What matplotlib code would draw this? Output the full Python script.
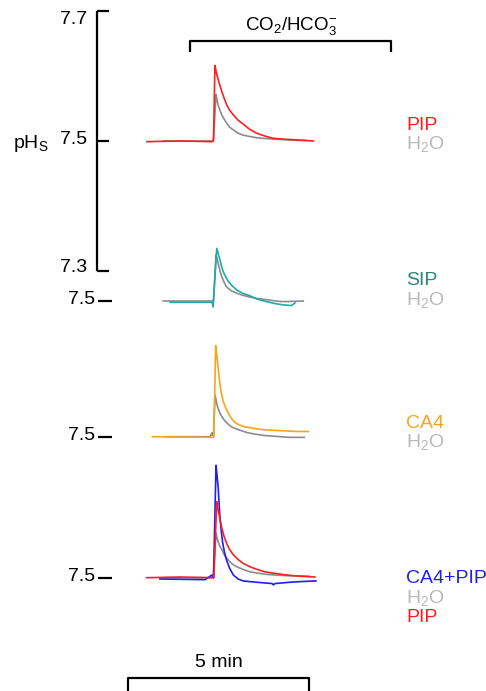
import matplotlib
matplotlib.use("Agg")
import matplotlib.pyplot as plt

plt.rcParams["font.family"] = ["Liberation Sans", "DejaVu Sans"]
plt.rcParams["mathtext.fontset"] = "custom"
plt.rcParams["mathtext.rm"] = "Liberation Sans"
plt.rcParams["mathtext.it"] = "Liberation Sans:italic"
plt.rcParams["mathtext.bf"] = "Liberation Sans:bold"

# ---- surface pH recordings (time in min, CO2/HCO3- step at t = 0) ----
# Panel 1: PIP vs H2O
p1_pip_t = [-1.84, -0.93, -0.04, 0.0, 0.04, 0.08, 0.13, 0.18, 0.23, 0.30, 0.37, 0.45, 0.55,
            0.68, 0.82, 1.00, 1.19, 1.40, 1.65, 1.90, 2.20, 2.76]
p1_pip_ph = [7.499, 7.500, 7.499, 7.500, 7.616, 7.605, 7.594, 7.585, 7.576, 7.565, 7.555, 7.547,
             7.540, 7.532, 7.526, 7.518, 7.512, 7.508, 7.504, 7.503, 7.502, 7.500]
p1_h2o_t = [-1.40, -0.03, 0.0, 0.07, 0.10, 0.13, 0.18, 0.23, 0.30, 0.37, 0.45, 0.55, 0.68, 0.82,
            1.00, 1.19, 1.40, 1.65, 1.95, 2.30, 2.53]
p1_h2o_ph = [7.500, 7.500, 7.502, 7.572, 7.562, 7.555, 7.547, 7.540, 7.533, 7.527, 7.521, 7.517,
             7.512, 7.509, 7.507, 7.505, 7.504, 7.503, 7.502, 7.501, 7.501]

# Panel 2: SIP vs H2O
p2_sip_t = [-1.20, -0.04, -0.01, 0.09, 0.13, 0.18, 0.22, 0.27, 0.34, 0.41, 0.52, 0.64, 0.80,
            1.01, 1.20, 1.47, 1.70, 1.93, 2.16, 2.25]
p2_sip_ph = [7.498, 7.498, 7.491, 7.581, 7.573, 7.563, 7.554, 7.545, 7.537, 7.530, 7.523, 7.517,
             7.512, 7.508, 7.503, 7.499, 7.496, 7.494, 7.493, 7.497]
p2_h2o_t = [-1.39, -0.03, 0.0, 0.07, 0.10, 0.13, 0.18, 0.23, 0.29, 0.36, 0.48, 0.64, 0.80, 1.01,
            1.20, 1.47, 1.70, 1.93, 2.48]
p2_h2o_ph = [7.500, 7.500, 7.502, 7.571, 7.565, 7.558, 7.546, 7.537, 7.529, 7.522, 7.516, 7.512,
             7.509, 7.506, 7.504, 7.502, 7.500, 7.499, 7.500]

# Panel 3: CA4 vs H2O
p3_ca4_t = [-1.69, -0.03, 0.01, 0.06, 0.09, 0.12, 0.15, 0.18, 0.22, 0.27, 0.34, 0.41, 0.50, 0.59,
            0.72, 0.87, 1.10, 1.33, 1.60, 1.98, 2.30, 2.62]
p3_ca4_ph = [7.500, 7.499, 7.500, 7.640, 7.626, 7.610, 7.595, 7.580, 7.566, 7.554, 7.544, 7.536,
             7.528, 7.522, 7.518, 7.515, 7.513, 7.511, 7.510, 7.509, 7.508, 7.508]
p3_h2o_t = [-1.34, -0.10, -0.04, 0.0, 0.04, 0.065, 0.09, 0.13, 0.18, 0.25, 0.32, 0.41, 0.50, 0.63,
            0.78, 0.95, 1.15, 1.38, 1.61, 1.85, 2.07, 2.30, 2.51]
p3_h2o_ph = [7.500, 7.500, 7.506, 7.501, 7.564, 7.558, 7.551, 7.543, 7.536, 7.529, 7.524, 7.519,
             7.515, 7.512, 7.509, 7.506, 7.504, 7.502, 7.501, 7.500, 7.499, 7.499, 7.499]

# Panel 4: CA4+PIP vs H2O vs PIP
p4_cp_t = [-1.48, -0.23, -0.05, 0.0, 0.07, 0.10, 0.13, 0.155, 0.18, 0.215, 0.25, 0.30, 0.36, 0.45,
           0.55, 0.68, 0.82, 1.00, 1.19, 1.40, 1.62, 1.65, 1.70, 2.11, 2.40, 2.83]
p4_cp_ph = [7.498, 7.497, 7.504, 7.500, 7.673, 7.656, 7.638, 7.614, 7.591, 7.572, 7.555, 7.540,
            7.527, 7.514, 7.504, 7.498, 7.495, 7.494, 7.493, 7.492, 7.491, 7.489, 7.491, 7.493,
            7.494, 7.495]
p4_h2o_t = [-1.34, -0.01, 0.07, 0.10, 0.13, 0.18, 0.23, 0.31, 0.41, 0.52, 0.64, 0.80, 1.01, 1.22,
            1.47, 1.75, 2.02, 2.30, 2.67]
p4_h2o_ph = [7.500, 7.500, 7.568, 7.561, 7.555, 7.548, 7.543, 7.534, 7.527, 7.521, 7.517, 7.513,
             7.509, 7.507, 7.505, 7.504, 7.503, 7.503, 7.502]
p4_pip_t = [-1.85, -0.93, -0.03, 0.01, 0.09, 0.11, 0.13, 0.18, 0.23, 0.29, 0.36, 0.45, 0.55, 0.68,
            0.82, 1.00, 1.19, 1.42, 1.65, 1.90, 2.20, 2.50, 2.80]
p4_pip_ph = [7.500, 7.501, 7.500, 7.500, 7.617, 7.611, 7.604, 7.590, 7.576, 7.564, 7.553, 7.543,
             7.535, 7.528, 7.522, 7.517, 7.513, 7.509, 7.507, 7.505, 7.503, 7.502, 7.501]

baseline_ph = 7.5
scale_ticks = [7.7, 7.5, 7.3]

RED = "#ff1f1f"
GRAY = "#8c8c8c"
TEAL = "#1fa9a9"
ORANGE = "#f9a51c"
BLUE = "#1f1ff0"
LABEL_GRAY = "#b9b9b9"
LABEL_TEAL = "#2a8679"

fig = plt.figure(figsize=(4.86, 6.91), dpi=100)
ax = fig.add_axes([0, 0, 1, 1])
ax.axis("off")

# axes units: x in minutes, y in pH units (panels stacked with vertical offsets)
PX_PER_MIN = 36.2
PX_PER_PH = 650.0
X0 = 213.5   # pixel column of t = 0
Y0 = 141.0   # pixel row of panel 1 baseline
ax.set_xlim(-X0 / PX_PER_MIN, (486 - X0) / PX_PER_MIN)
ax.set_ylim((Y0 - 691) / PX_PER_PH, Y0 / PX_PER_PH)


def px_x(px):
    return (px - X0) / PX_PER_MIN


def px_y(py):
    return (Y0 - py) / PX_PER_PH


offsets = [px_y(141), px_y(301), px_y(436.7), px_y(577.7)]


def trace(t, ph, off, color, z):
    ax.plot(t, [v - baseline_ph + off for v in ph], color=color, lw=1.2,
            solid_joinstyle="round", zorder=z)


trace(p1_h2o_t, p1_h2o_ph, offsets[0], GRAY, 2)
trace(p1_pip_t, p1_pip_ph, offsets[0], RED, 3)
trace(p2_h2o_t, p2_h2o_ph, offsets[1], GRAY, 2)
trace(p2_sip_t, p2_sip_ph, offsets[1], TEAL, 3)
trace(p3_h2o_t, p3_h2o_ph, offsets[2], GRAY, 2)
trace(p3_ca4_t, p3_ca4_ph, offsets[2], ORANGE, 3)
trace(p4_h2o_t, p4_h2o_ph, offsets[3], GRAY, 2)
trace(p4_cp_t, p4_cp_ph, offsets[3], BLUE, 3)
trace(p4_pip_t, p4_pip_ph, offsets[3], RED, 4)

FS = 14
blk = dict(color="black", lw=1.6, solid_capstyle="butt", clip_on=False)

# pH scale bar (panel 1 coordinates)
sx = px_x(97)
tick_len = 12 / PX_PER_MIN
ys = [v - baseline_ph for v in scale_ticks]
ax.plot([sx, sx], [min(ys), max(ys)], **blk)
for v in ys:
    ax.plot([sx, sx + tick_len], [v, v], **blk)
for lab, cy_px in zip(scale_ticks, [20, 140, 267]):
    ax.text(px_x(87), px_y(cy_px), f"{lab:.1f}", ha="right", va="center", fontsize=FS)
ax.text(px_x(13), px_y(148), r"pH$_\mathrm{S}$", ha="left", va="baseline", fontsize=FS)

# baseline markers for the lower panels
for off in offsets[1:]:
    ax.plot([px_x(98), px_x(112)], [off, off], **blk)
    ax.text(px_x(95), off + 1.5 / PX_PER_PH, "7.5", ha="right", va="center", fontsize=FS)

# CO2/HCO3- application bar
cy = px_y(40.7)
cdrop = px_y(52)
ax.plot([px_x(190), px_x(190), px_x(390.7), px_x(390.7)], [cdrop, cy, cy, cdrop], **blk)
ax.text(px_x(291), px_y(30), r"CO$_2$/HCO$_3^{-}$", ha="center", va="baseline",
        fontsize=13.5)

# time scale bar: 5 min
t_left = px_x(128)
by = px_y(678)
bdrop = px_y(695)
ax.plot([t_left, t_left, t_left + 5, t_left + 5], [bdrop, by, by, bdrop], **blk)
ax.text(t_left + 2.5, px_y(667), "5 min", ha="center", va="baseline", fontsize=FS)

# condition labels
LINE = 19.5 / PX_PER_PH
label_sets = [
    (130, [("PIP", RED), (r"H$_2$O", LABEL_GRAY)]),
    (285, [("SIP", LABEL_TEAL), (r"H$_2$O", LABEL_GRAY)]),
    (428, [("CA4", ORANGE), (r"H$_2$O", LABEL_GRAY)]),
    (583, [("CA4+PIP", BLUE), (r"H$_2$O", LABEL_GRAY), ("PIP", RED)]),
]
for top_px, items in label_sets:
    for i, (txt, col) in enumerate(items):
        ax.text(px_x(406), px_y(top_px) - i * LINE, txt, color=col, ha="left",
                va="baseline", fontsize=FS)

fig.savefig("out.png", dpi=100)
